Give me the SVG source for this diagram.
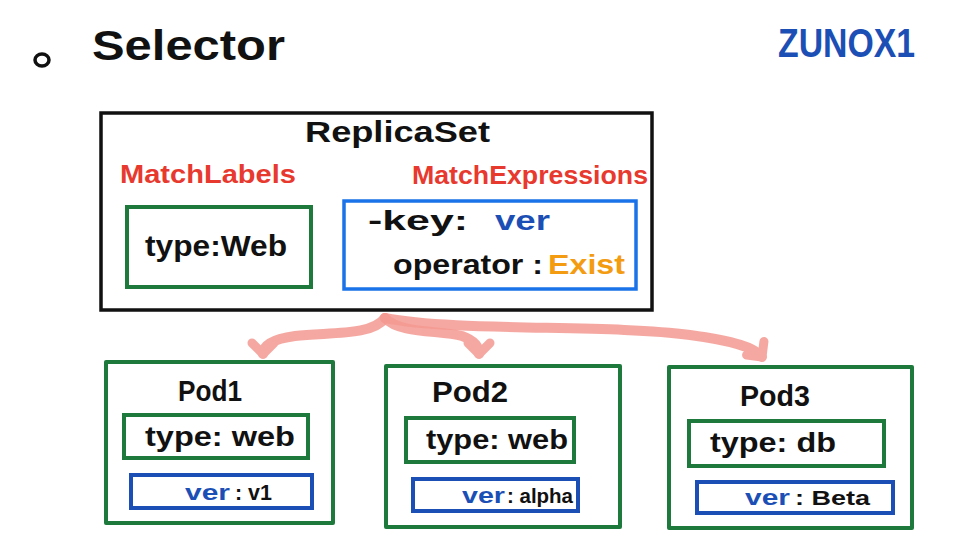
<svg xmlns="http://www.w3.org/2000/svg" width="960" height="543" viewBox="0 0 960 543">
<style>
text{font-family:"Liberation Sans","DejaVu Sans",sans-serif;font-weight:700}
.blk{fill:#111}
.red{fill:#e8392f}
.blue{fill:#1c4fb5}
.orange{fill:#f39c12}
.outer{fill:none;stroke:#1e7a3c;stroke-width:4;stroke-linejoin:round}
.inG{fill:none;stroke:#1e7a3c;stroke-width:4}
.inB{fill:none;stroke:#1c4fb5;stroke-width:4}
.conn{fill:none;stroke:#f49a92;stroke-width:10;stroke-linecap:round;opacity:0.85}
</style>
<defs>
<marker id="ah" viewBox="-16 -16 32 32" markerWidth="32" markerHeight="32" markerUnits="userSpaceOnUse" refX="0" refY="0" orient="auto">
<path d="M-11,-11 L0,0 L-11,11" fill="none" stroke="#f49a92" stroke-width="9" stroke-linecap="round" stroke-linejoin="round"/>
</marker>
</defs>
<rect width="960" height="543" fill="#fff"/>
<g id="title">
<ellipse cx="42" cy="60" rx="7" ry="6" fill="none" stroke="#111" stroke-width="3.5"/>
<text x="92" y="60" font-size="42" class="blk" textLength="193" lengthAdjust="spacingAndGlyphs">Selector</text>
<text x="778" y="57" font-size="40" class="blue" textLength="137" lengthAdjust="spacingAndGlyphs">ZUNOX1</text>
</g>
<g id="replicaset">
<rect x="101" y="113" width="551" height="197" fill="none" stroke="#111" stroke-width="3.5"/>
<text x="305" y="142" font-size="30" class="blk" textLength="185" lengthAdjust="spacingAndGlyphs">ReplicaSet</text>
<text x="120" y="183" font-size="25" class="red" textLength="176" lengthAdjust="spacingAndGlyphs">MatchLabels</text>
<text x="412" y="184" font-size="25" class="red" textLength="236" lengthAdjust="spacingAndGlyphs">MatchExpressions</text>
<g id="matchLabels">
<rect x="127" y="207" width="184" height="80" class="inG"/>
<text x="145" y="256" font-size="30" class="blk" textLength="142" lengthAdjust="spacingAndGlyphs">type:Web</text>
</g>
<g id="matchExpressions">
<rect x="344" y="201" width="292" height="88" fill="none" stroke="#1a73e8" stroke-width="3.5"/>
<text x="368" y="230" font-size="27" class="blk" textLength="100" lengthAdjust="spacingAndGlyphs">-key:</text>
<text x="495" y="230" font-size="27" class="blue" textLength="55" lengthAdjust="spacingAndGlyphs">ver</text>
<text x="393" y="274" font-size="27" class="blk" textLength="150" lengthAdjust="spacingAndGlyphs">operator :</text>
<text x="548" y="274" font-size="27" class="orange" textLength="77" lengthAdjust="spacingAndGlyphs">Exist</text>
</g>
</g>
<g id="connectors">
<path class="conn" d="M385,318 C372,336 330,332 295,336 C272,339 263,346 263,354" marker-end="url(#ah)"/>
<path class="conn" d="M385,318 C400,334 440,330 462,336 C476,341 479,347 479,354" marker-end="url(#ah)"/>
<path class="conn" d="M385,318 C455,332 610,324 690,335 C735,341 755,348 762,357" marker-end="url(#ah)"/>
</g>
<g id="pod1">
<rect x="106" y="362" width="227" height="161" class="outer"/>
<text x="178" y="401" font-size="30" class="blk" textLength="64" lengthAdjust="spacingAndGlyphs">Pod1</text>
<rect x="124" y="415" width="184" height="43" class="inG"/>
<text x="145" y="446" font-size="27" class="blk" textLength="150" lengthAdjust="spacingAndGlyphs">type: web</text>
<rect x="131" y="475" width="181" height="33" class="inB"/>
<text x="185" y="500" font-size="22" class="blue" textLength="45" lengthAdjust="spacingAndGlyphs">ver</text>
<text x="235" y="500" font-size="22" class="blk" textLength="37" lengthAdjust="spacingAndGlyphs">: v1</text>
</g>
<g id="pod2">
<rect x="386" y="366" width="234" height="161" class="outer"/>
<text x="432" y="402" font-size="30" class="blk" textLength="76" lengthAdjust="spacingAndGlyphs">Pod2</text>
<rect x="406" y="418" width="168" height="44" class="inG"/>
<text x="426" y="449" font-size="27" class="blk" textLength="142" lengthAdjust="spacingAndGlyphs">type: web</text>
<rect x="413" y="479" width="165" height="32" class="inB"/>
<text x="462" y="503" font-size="22" class="blue" textLength="43" lengthAdjust="spacingAndGlyphs">ver</text>
<text x="507" y="503" font-size="20" class="blk" textLength="66" lengthAdjust="spacingAndGlyphs">: alpha</text>
</g>
<g id="pod3">
<rect x="669" y="367" width="243" height="161" class="outer"/>
<text x="740" y="406" font-size="30" class="blk" textLength="70" lengthAdjust="spacingAndGlyphs">Pod3</text>
<rect x="689" y="421" width="195" height="45" class="inG"/>
<text x="710" y="452" font-size="27" class="blk" textLength="126" lengthAdjust="spacingAndGlyphs">type: db</text>
<rect x="697" y="482" width="196" height="31" class="inB"/>
<text x="745" y="505" font-size="22" class="blue" textLength="45" lengthAdjust="spacingAndGlyphs">ver</text>
<text x="795" y="505" font-size="20" class="blk" textLength="75" lengthAdjust="spacingAndGlyphs">: Beta</text>
</g>
</svg>
